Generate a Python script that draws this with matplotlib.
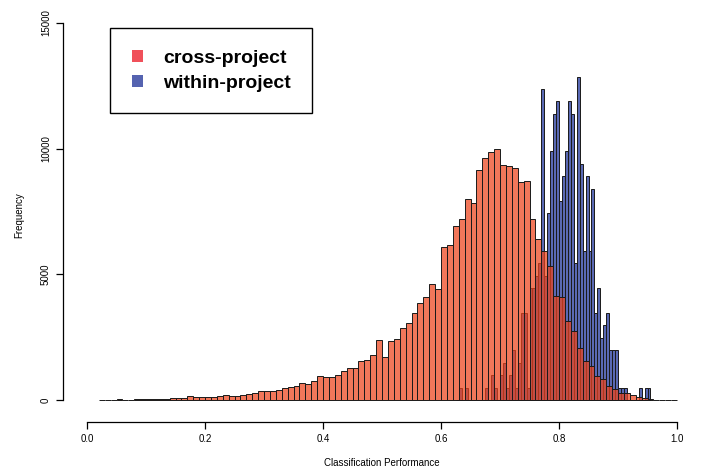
import numpy as np
import matplotlib
matplotlib.use('Agg')
import matplotlib.pyplot as plt
from matplotlib.patches import Patch

plt.rcParams['font.family'] = ['Liberation Sans', 'DejaVu Sans']

# cross-project: bins of width 0.01 starting at 0.02
cross_start = 0.02
cross_width = 0.01
cross_counts = [
    10, 15, 15, 20, 15, 15, 20,
    40, 40, 35, 40, 45,
    80, 80, 85, 140, 115, 120, 120, 133, 146, 199,
    146, 172, 186, 225, 265, 345, 358, 345, 385, 477,
    530, 557, 690, 623, 743, 942, 930, 915, 995, 1160,
    1265, 1293, 1532, 1611, 1810, 2407, 1719, 2367, 2420, 2845,
    3044, 3481, 3840, 4118, 4608, 4409, 6096, 6175, 6931, 7210,
    8006, 7858, 9171, 9609, 9860, 9995, 9370, 9291, 9239, 8654,
    8706, 7210, 6414, 5948, 5339, 4146, 4090, 3135, 2753, 2077,
    1532, 1360, 963, 843, 565, 430, 286, 286, 191, 127,
    87, 40, 0, 0, 0, 0,
]

# within-project: bins of width 0.005 starting at 0.625
within_start = 0.625
within_width = 0.005
within_counts = [
    0, 495, 0, 495,
    0, 0, 0, 0, 0, 0,
    495, 0, 990, 495, 0,
    990, 1485, 495, 990, 1980, 495, 1485, 3465, 3465, 495,
    4455, 4455, 4950, 5445, 12375, 4950,
    7425, 9900, 11385, 11880, 7920, 8910, 9900, 11880, 11385, 5445,
    12870, 9405, 5940, 8910, 5940, 8415, 3465, 4455, 2475, 2970,
    3465, 1980, 1980, 1980, 495, 495, 495, 0, 0, 0, 0,
    495, 0, 495, 495,
]

x_ticks = [0.0, 0.2, 0.4, 0.6, 0.8, 1.0]
y_ticks = [0, 5000, 10000, 15000]

cross_edges = cross_start + cross_width * np.arange(len(cross_counts))
within_edges = within_start + within_width * np.arange(len(within_counts))

W, H = 711, 468
fig = plt.figure(figsize=(W / 100, H / 100), dpi=100)
# axes placed so that x=0 -> 87px, x=1 -> 677px, y=0 -> 400px, y=15000 -> 23px
left_px, right_px = 63.4, 700.6
top_px, bottom_px = 8.0, 422.0
ax = fig.add_axes([left_px / W, 1 - bottom_px / H,
                   (right_px - left_px) / W, (bottom_px - top_px) / H])

blue = '#5A69B4'
red = (238 / 255, 67 / 255, 26 / 255, 0.72)

ax.bar(within_edges, within_counts, width=within_width, align='edge',
       color=blue, edgecolor='#1a1a1a', linewidth=0.7, zorder=1)
ax.bar(cross_edges, cross_counts, width=cross_width, align='edge',
       color=red, edgecolor='#1a1a1a', linewidth=0.7, zorder=2)

ax.set_xlim(-0.04, 1.04)
px_per = (400 - 23) / 15000
ax.set_ylim(-(bottom_px - 400) / px_per, (400 - top_px) / px_per)

for s in ['top', 'right']:
    ax.spines[s].set_visible(False)
ax.spines['left'].set_bounds(0, 15000)
ax.spines['bottom'].set_bounds(0, 1)
ax.spines['left'].set_linewidth(0.9)
ax.spines['bottom'].set_linewidth(0.9)

ax.set_xticks(x_ticks)
ax.set_xticklabels([f'{v:.1f}' for v in x_ticks])
ax.set_yticks(y_ticks)
ax.set_yticklabels([str(v) for v in y_ticks], rotation=90, va='center')
ax.tick_params(axis='both', direction='out', length=5, width=0.9,
               labelsize=7, pad=4)

ax.set_xlabel('Classification Performance', fontsize=7, labelpad=10)
ax.set_ylabel('Frequency', fontsize=7, labelpad=12)

handles = [Patch(facecolor='#F0505A', edgecolor='none', label='cross-project'),
           Patch(facecolor='#5563B0', edgecolor='none', label='within-project')]
leg = ax.legend(handles=handles, loc='upper left',
                bbox_to_anchor=(110 / W, 1 - 28 / H), bbox_transform=fig.transFigure,
                prop={'weight': 'bold', 'size': 14}, frameon=True, fancybox=False,
                framealpha=1, edgecolor='black', borderpad=1.12,
                handlelength=0.6, handleheight=0.6, handletextpad=1.0,
                labelspacing=0.4, borderaxespad=0)
leg.get_frame().set_linewidth(1.0)

fig.savefig('out.png', dpi=100)
